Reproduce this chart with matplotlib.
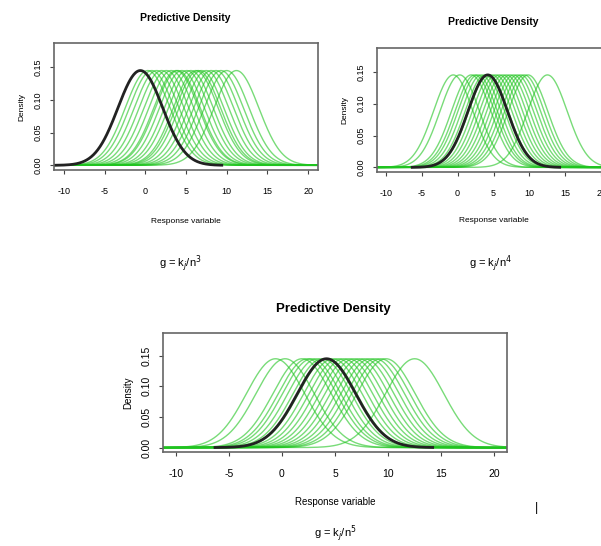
import numpy as np
import matplotlib
matplotlib.use("Agg")
import matplotlib.pyplot as plt

plt.rcParams["font.family"] = ["Liberation Sans", "DejaVu Sans"]

# peak locations of the predictive densities
green_centers_a = [0.3, 0.8, 1.4, 2.0, 2.6, 3.2, 3.8, 4.0, 4.5, 5.1,
                   5.6, 6.2, 6.5, 6.9, 7.5, 8.1, 8.7, 9.3, 10.0, 11.2]
black_center_a = -0.6
green_centers_b = [-0.6, 0.3, 1.9, 2.4, 2.8, 3.3, 3.8, 4.3, 4.8, 5.3,
                   5.8, 6.3, 6.8, 7.3, 7.8, 8.3, 8.8, 9.3, 9.8, 12.5]
black_center_b = 4.2
spread = 2.75

x_ticks = [-10, -5, 0, 5, 10, 15, 20]
y_ticks = [0.00, 0.05, 0.10, 0.15]
captions = ["g = k$_j$/n$^3$", "g = k$_j$/n$^4$", "g = k$_j$/n$^5$"]


def dens(x, m, s):
    return np.exp(-0.5 * ((x - m) / s) ** 2) / (s * np.sqrt(2 * np.pi))


def panel(ax, greens, black, fs, lab_fs, lab_pad):
    xg = np.linspace(-11.2, 21.2, 400)
    for m in greens:
        ax.plot(xg, dens(xg, m, spread), color="#1fc41f", alpha=0.6, lw=1.0)
    xb = np.linspace(max(black - 10.5, -11.2), black + 10, 300)
    ax.plot(xb, dens(xb, black, spread), color="#222222", lw=2.0)
    ax.set_xlim(-11.2, 21.2)
    ax.set_ylim(-0.0072, 0.1872)
    ax.set_xticks(x_ticks)
    ax.set_xticklabels([str(t) for t in x_ticks], fontsize=fs)
    ax.set_yticks(y_ticks)
    ax.set_yticklabels(["%.2f" % t for t in y_ticks], fontsize=fs,
                       rotation=90, va="center")
    ax.tick_params(length=3, width=0.8, color="#444444", pad=5)
    ax.tick_params(axis="x", pad=9)
    for s in ax.spines.values():
        s.set_color("#666666")
        s.set_linewidth(1.2)
    ax.set_xlabel("Response variable", fontsize=lab_fs, labelpad=lab_pad)
    ax.set_ylabel("Density", fontsize=lab_fs, labelpad=6)


fig = plt.figure(figsize=(6.01, 5.46), dpi=100)

ax1 = fig.add_axes([0.0899, 0.6886, 0.439, 0.2326])
panel(ax1, green_centers_a, black_center_a, 6.5, 6, 16)
ax2 = fig.add_axes([0.6273, 0.685, 0.3877, 0.227])
panel(ax2, green_centers_b, black_center_b, 6.5, 6, 14)
ax3 = fig.add_axes([0.2712, 0.1722, 0.5724, 0.218])
panel(ax3, green_centers_b, black_center_b, 7.5, 7, 13)

fig.text(185 / 601, 1 - 18 / 546, "Predictive Density", fontsize=7.5,
         weight="bold", ha="center", va="center")
fig.text(493 / 601, 1 - 22 / 546, "Predictive Density", fontsize=7.5,
         weight="bold", ha="center", va="center")
fig.text(333 / 601, 1 - 309 / 546, "Predictive Density", fontsize=9.5,
         weight="bold", ha="center", va="center")

fig.text(180 / 601, 1 - 263 / 546, captions[0], fontsize=8, ha="center", va="center")
fig.text(490 / 601, 1 - 263 / 546, captions[1], fontsize=8, ha="center", va="center")
fig.text(335 / 601, 1 - 533 / 546, captions[2], fontsize=8, ha="center", va="center")
fig.text(536 / 601, 1 - 508 / 546, "|", fontsize=9, ha="center", va="center")

fig.savefig("out.png", dpi=100)
